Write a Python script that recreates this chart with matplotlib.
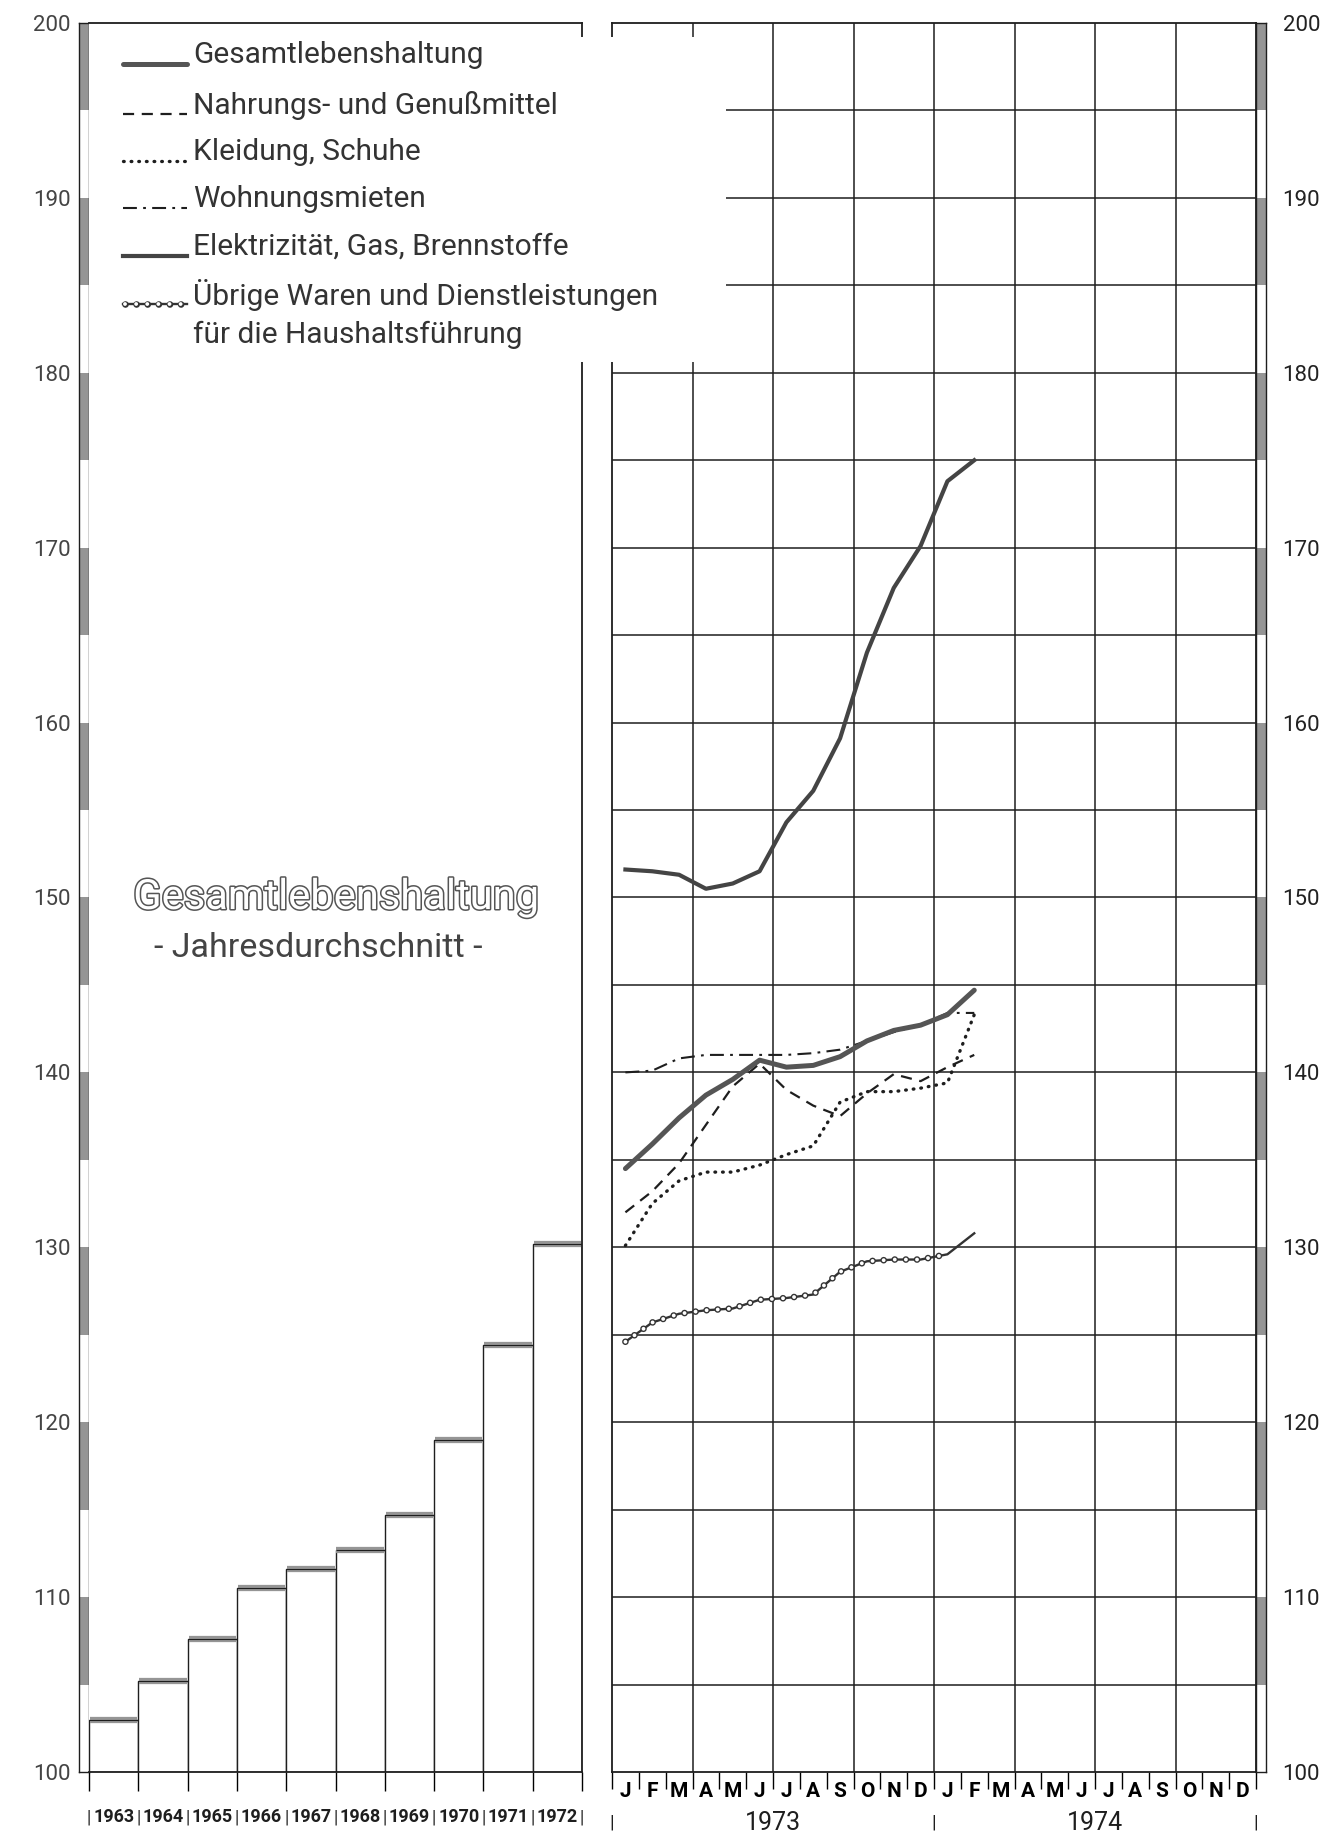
import numpy as np
import matplotlib
matplotlib.use("Agg")
import matplotlib.pyplot as plt
import matplotlib.patheffects as pe
from matplotlib.transforms import blended_transform_factory

# ==========================
# 1. Daten
# ==========================
jahre = ["1963", "1964", "1965", "1966", "1967", "1968", "1969", "1970", "1971", "1972"]
jahres_index = [103.0, 105.2, 107.6, 110.5, 111.6, 112.7, 114.7, 119.0, 124.4, 130.2]

monate = ["J", "F", "M", "A", "M", "J", "J", "A", "S", "O", "N", "D"] * 2
jahre_monatlich = ["1973", "1974"]

# Monatswerte Januar 1973 bis Februar 1974
gesamt = [134.5, 135.9, 137.4, 138.7, 139.6, 140.7, 140.3, 140.4, 140.9, 141.8, 142.4, 142.7, 143.3, 144.7]
nahrung = [132.0, 133.2, 134.8, 137.0, 139.2, 140.5, 139.0, 138.1, 137.5, 138.8, 139.9, 139.5, 140.3, 141.0]
kleidung = [130.1, 132.5, 133.8, 134.3, 134.3, 134.7, 135.3, 135.8, 138.3, 138.9, 138.9, 139.1, 139.4, 143.3]
mieten = [140.0, 140.1, 140.8, 141.0, 141.0, 141.0, 141.0, 141.1, 141.3, 141.8, 142.3, 142.7, 143.4, 143.4]
energie = [151.6, 151.5, 151.3, 150.5, 150.8, 151.5, 154.3, 156.1, 159.1, 164.0, 167.7, 170.1, 173.8, 175.0]
uebrige = [124.6, 125.7, 126.2, 126.4, 126.5, 127.0, 127.1, 127.3, 128.6, 129.2, 129.3, 129.3, 129.6, 130.8]

legende = ["Gesamtlebenshaltung", "Nahrungs- und Genußmittel", "Kleidung, Schuhe",
           "Wohnungsmieten", "Elektrizität, Gas, Brennstoffe",
           "Übrige Waren und Dienstleistungen", "für die Haushaltsführung"]

# ==========================
# 2. Stile (Strichmuster in Punkt, nicht skaliert)
# ==========================
plt.rcParams["lines.scale_dashes"] = False
plt.rcParams["font.family"] = ["Roboto", "DejaVu Sans"]

INK = "#1e1e1e"
GREY = "#959595"
TXT = "#333333"
styles = [
    dict(color="#555555", lw=3.6, solid_capstyle="round"),
    dict(color=INK, lw=1.6, dashes=(8, 5.5)),
    dict(color=INK, lw=2.4, dashes=(0.5, 5.0), dash_capstyle="round"),
    dict(color=INK, lw=1.5, dashes=(10, 4.5, 2, 4.5)),
    dict(color="#444444", lw=3.0),
    dict(color="#333333", lw=1.7),
]
# kleine offene Kreise entlang der Linie (zwei gestrichelte Linien uebereinander)
ring_out = dict(color="#333333", lw=4.8, dashes=(0.01, 8), dash_capstyle="round")
ring_in = dict(color="white", lw=2.8, dashes=(0.01, 8), dash_capstyle="round")

W, H = 1331, 1835
fig = plt.figure(figsize=(W / 100, H / 100), dpi=100)
fig.patch.set_facecolor("white")

y0 = (H - 1772) / H
hh = 1749 / H

ax_lr = fig.add_axes([79 / W, y0, 10 / W, hh])
ax_l = fig.add_axes([89 / W, y0, 493 / W, hh])
ax_r = fig.add_axes([612 / W, y0, 644 / W, hh])
ax_rr = fig.add_axes([1256 / W, y0, 10 / W, hh])


# ==========================
# 3. Skalenleisten links / rechts
# ==========================
def ruler(ax, right=False):
    ax.set_xlim(0, 1)
    ax.set_ylim(100, 200)
    ax.bar(0.5, 5, bottom=np.arange(105, 200, 10), width=1, color=GREY, lw=0)
    ax.set_xticks([])
    ax.set_yticks(np.arange(100, 201, 10))
    for s in ax.spines.values():
        s.set_linewidth(1.0)
        s.set_color(INK)
    if right:
        ax.yaxis.tick_right()
        ax.tick_params(axis="y", length=0, pad=12, labelsize=16, labelcolor="#222222")
    else:
        ax.tick_params(axis="y", length=0, pad=6, labelsize=16, labelcolor="#444444")


ruler(ax_lr)
ruler(ax_rr, right=True)

# ==========================
# 4. Linkes Feld: Jahresdurchschnitt
# ==========================
ax_l.set_xlim(0, 10)
ax_l.set_ylim(100, 200)
x = np.arange(len(jahre))
ax_l.bar(x, np.array(jahres_index) - 100, bottom=100, width=1, align="edge",
         facecolor="white", edgecolor=INK, lw=1.0)
ax_l.hlines(jahres_index, x + 0.02, x + 0.98, color=GREY, lw=4.5, zorder=3)
ax_l.hlines(jahres_index, x, x + 1, color=INK, lw=0.8, zorder=4)
ax_l.spines["left"].set_visible(False)
for s in ["top", "right", "bottom"]:
    ax_l.spines[s].set_linewidth(1.3)
    ax_l.spines[s].set_color(INK)
ax_l.set_yticks([])
ax_l.set_xticks(np.arange(11))
ax_l.tick_params(axis="x", length=14, direction="out", width=1.0, labelbottom=False)

tl = blended_transform_factory(ax_l.transData, ax_l.transAxes)
for i, j in enumerate(jahre):
    ax_l.text(i + 0.5, -0.026, j, transform=tl, ha="center", va="center",
              fontsize=13, weight="bold", color=INK)
for i in range(len(jahre) + 1):
    ax_l.text(i, -0.026, "|", transform=tl, ha="center", va="center", fontsize=13, color=INK)

hollow = [pe.withStroke(linewidth=2.2, foreground="#555555")]
ax_l.text(5.0, 150.0, "Gesamtlebenshaltung", ha="center", va="center", fontsize=30,
          color="white", path_effects=hollow)
ax_l.text(4.65, 147.1, "- Jahresdurchschnitt -", ha="center", va="center", fontsize=24.5,
          color="#444444")

# ==========================
# 5. Rechtes Feld: Monatswerte 1973/74
# ==========================
ax_r.set_xlim(0, 24)
ax_r.set_ylim(100, 200)
ax_r.hlines(np.arange(105, 200, 5), 0, 24, color=INK, lw=1.1, zorder=1)
ax_r.vlines(np.arange(3, 24, 3), 100, 200, color=INK, lw=1.1, zorder=1)
for s in ax_r.spines.values():
    s.set_linewidth(1.3)
    s.set_color(INK)

xm = np.arange(len(gesamt)) + 0.5
ax_r.plot(xm, kleidung, zorder=3, **styles[2])
ax_r.plot(xm, nahrung, zorder=3, **styles[1])
ax_r.plot(xm, mieten, zorder=3, **styles[3])
ax_r.plot(xm, energie, zorder=3, **styles[4])
ax_r.plot(xm, uebrige, zorder=3, **styles[5])
ax_r.plot(xm[:13], uebrige[:13], zorder=4, **ring_out)
ax_r.plot(xm[:13], uebrige[:13], zorder=4, **ring_in)
ax_r.plot(xm, gesamt, zorder=4, **styles[0])

ax_r.set_yticks([])
ax_r.set_xticks(np.arange(25))
ax_r.tick_params(axis="x", which="major", length=12, direction="out", width=1.0, labelbottom=False)
ax_r.set_xticks(np.arange(24) + 0.5, minor=True)
ax_r.set_xticklabels(monate, minor=True)
ax_r.tick_params(axis="x", which="minor", length=0, pad=7, labelsize=15)
for lab in ax_r.get_xticklabels(minor=True):
    lab.set_fontweight("bold")

tr = blended_transform_factory(ax_r.transData, ax_r.transAxes)
for k, j in enumerate(jahre_monatlich):
    ax_r.text(12 * k + 6, -0.029, j, transform=tr, ha="center", va="center",
              fontsize=18, color=INK)
for k in range(3):
    ax_r.text(12 * k, -0.029, "|", transform=tr, ha="center", va="center",
              fontsize=14, color=INK)

# ==========================
# 6. Legende (weisses Feld oben links)
# ==========================
ax_leg = fig.add_axes([91 / W, (H - 362) / H, 635 / W, 325 / H], zorder=5)
ax_leg.set_xlim(91, 726)
ax_leg.set_ylim(362, 37)
ax_leg.set_xticks([])
ax_leg.set_yticks([])
for s in ax_leg.spines.values():
    s.set_visible(False)
ax_leg.patch.set_facecolor("white")

leg_y = [55, 105, 152, 199, 247, 295, 335]
for k, (lbl, yy) in enumerate(zip(legende, leg_y)):
    if k < 6:
        ax_leg.plot([123, 187], [yy + 9, yy + 9], **styles[k])
    if k == 5:
        ax_leg.plot([125, 186], [yy + 9, yy + 9], **ring_out)
        ax_leg.plot([125, 186], [yy + 9, yy + 9], **ring_in)
    ax_leg.text(193, yy, lbl, ha="left", va="center", fontsize=21.5, color=TXT)

fig.savefig("out.png", dpi=100, facecolor="white")
